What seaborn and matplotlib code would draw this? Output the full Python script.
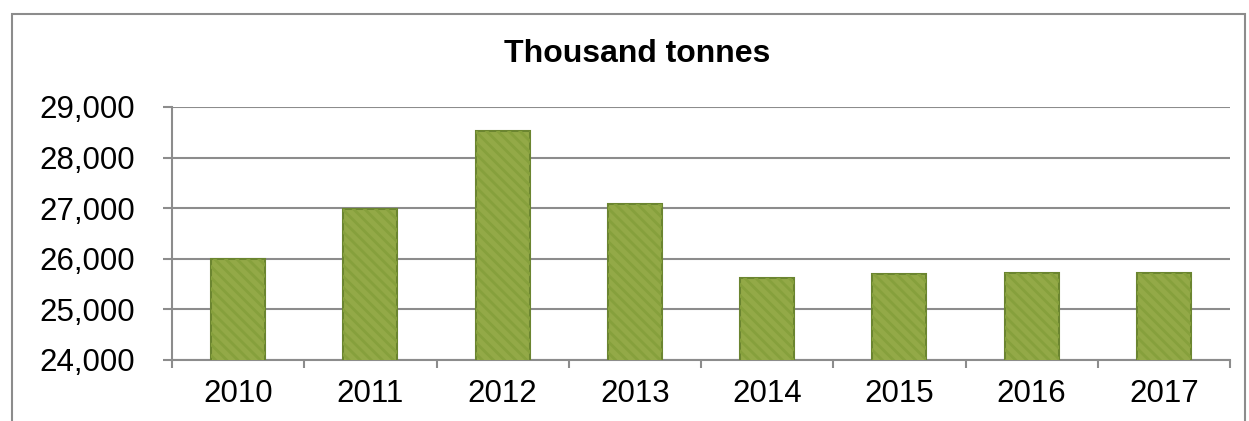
import pandas as pd
import matplotlib.pyplot as plt
import seaborn as sns
from matplotlib.patches import Rectangle
from matplotlib.ticker import FuncFormatter

years = ["2010", "2011", "2012", "2013", "2014", "2015", "2016", "2017"]
tonnes = [26000, 26990, 28520, 27080, 25630, 25700, 25710, 25710]

df = pd.DataFrame({"Year": years, "Tonnes": tonnes})

sns.set_style("white")
plt.rcParams['font.family'] = ['Liberation Sans', 'DejaVu Sans']
plt.rcParams['text.color'] = 'black'
plt.rcParams['hatch.linewidth'] = 2.0

fig = plt.figure(figsize=(12.49, 4.21), dpi=100)
ax = fig.add_axes([172/1249, 1 - 360/421, (1230 - 172)/1249, (360 - 107)/421])

sns.barplot(data=df, x="Year", y="Tonnes", color="#93A947", width=0.41,
            edgecolor="#6B8530", linewidth=1.5, saturation=1, ax=ax, zorder=3)

# subtle diagonal texture on the bars
for bar in list(ax.patches):
    tex = Rectangle(bar.get_xy(), bar.get_width(), bar.get_height(),
                    facecolor="none", edgecolor="#86A03C", linewidth=0,
                    hatch="\\\\\\", zorder=4)
    ax.add_patch(tex)

ax.set_ylim(24000, 29000)
ax.set_xlim(-0.5, len(years) - 0.5)
ax.set_yticks(range(24000, 29001, 1000))
ax.yaxis.set_major_formatter(FuncFormatter(lambda v, p: f"{int(v):,}"))
ax.grid(axis="y", color="#8C8C8C", linewidth=1.5, zorder=0)
ax.set_axisbelow(True)

ax.set_xlabel("")
ax.set_ylabel("")
fig.text(637/1249, 1 - 54/421, "Thousand tonnes", fontsize=23, fontweight="bold",
         ha="center", va="center")

# category boundary tick marks below the axis
ax.set_xticks([i - 0.5 for i in range(len(years) + 1)], minor=True)
ax.tick_params(axis="x", which="major", bottom=True, length=0, labelsize=22.5, pad=14,
               labelcolor="black")
ax.tick_params(axis="x", which="minor", bottom=True, length=6, width=1.5, color="#8C8C8C")
ax.tick_params(axis="y", left=True, length=6.5, width=1.5, color="#8C8C8C",
               labelsize=22.5, pad=20, labelcolor="black")

for side in ["top", "right"]:
    ax.spines[side].set_visible(False)
for side in ["left", "bottom"]:
    ax.spines[side].set_color("#8C8C8C")
    ax.spines[side].set_linewidth(1.5)

# outer chart border
fig.patches.append(Rectangle((12/1249, -0.05), (1245 - 12)/1249, 1 - 14/421 + 0.05,
                             transform=fig.transFigure, fill=False,
                             edgecolor="#8C8C8C", linewidth=1.5))

fig.savefig("out.png", dpi=100)
